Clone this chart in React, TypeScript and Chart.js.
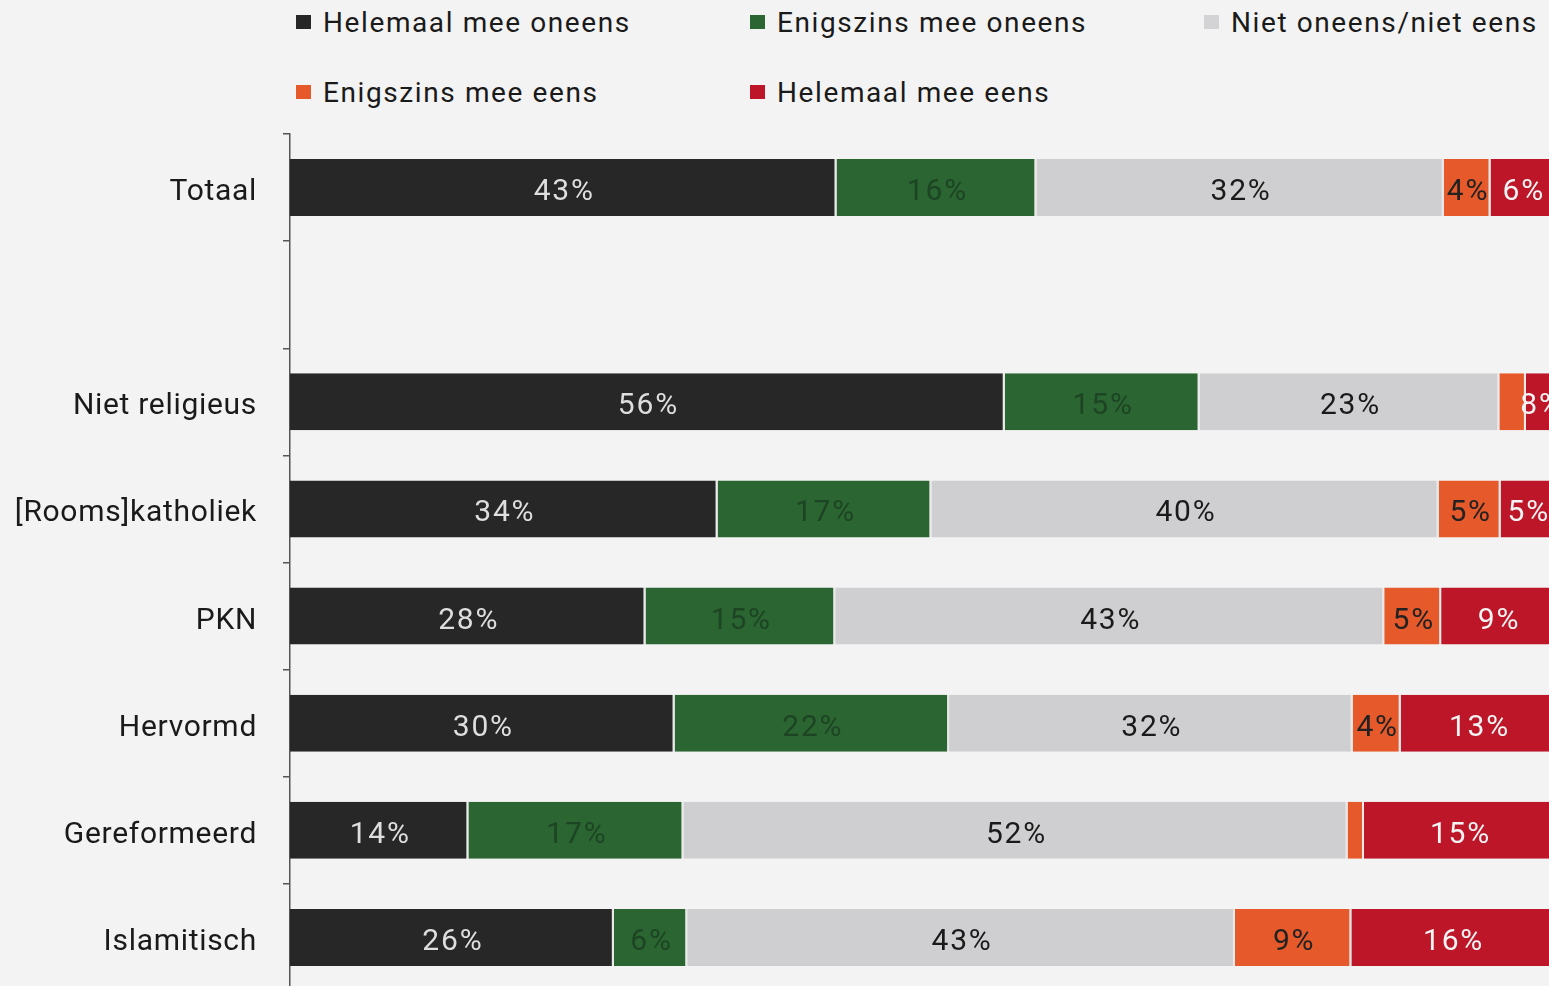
import React, { useEffect, useRef } from "react";
import { Chart, registerables } from "chart.js";

Chart.register(...registerables);

const categories = ["Totaal", "", "Niet religieus", "[Rooms]katholiek", "PKN", "Hervormd", "Gereformeerd", "Islamitisch"];
const seriesNames = ["Helemaal mee oneens", "Enigszins mee oneens", "Niet oneens/niet eens", "Enigszins mee eens", "Helemaal mee eens"];

const helemaalOneens = [43.2, null, 56.5, 33.8, 28.1, 30.4, 14.1, 25.6];
const enigszinsOneens = [15.8, null, 15.4, 16.9, 15.0, 21.7, 17.0, 5.8];
const neutraal = [32.2, null, 23.7, 40.1, 43.4, 31.9, 52.5, 43.3];
const enigszinsEens = [3.7, null, 2.1, 4.9, 4.5, 3.8, 1.3, 9.2];
const helemaalEens = [5.1, null, 2.3, 4.3, 9.0, 12.3, 15.1, 16.0];

const labelsHelemaalOneens = ["43%", "", "56%", "34%", "28%", "30%", "14%", "26%"];
const labelsEnigszinsOneens = ["16%", "", "15%", "17%", "15%", "22%", "17%", "6%"];
const labelsNeutraal = ["32%", "", "23%", "40%", "43%", "32%", "52%", "43%"];
const labelsEnigszinsEens = ["4%", "", "", "5%", "5%", "4%", "", "9%"];
const labelsHelemaalEens = ["6%", "", "8%", "5%", "9%", "13%", "15%", "16%"];

const seriesValues = [helemaalOneens, enigszinsOneens, neutraal, enigszinsEens, helemaalEens];
const seriesLabels = [labelsHelemaalOneens, labelsEnigszinsOneens, labelsNeutraal, labelsEnigszinsEens, labelsHelemaalEens];
const barColors = ["#272727", "#2a6532", "#cfcfd1", "#e5592a", "#bd1629"];
const textColors = ["#dedede", "#1d4523", "#1a1a1a", "#222222", "#f4f4f4"];

const FONT = "Roboto, 'Noto Sans', sans-serif";

const spacingPlugin = {
  id: "tickSpacing",
  beforeDraw(chart: any) {
    try { chart.ctx.letterSpacing = "0.7px"; } catch (e) {}
  },
  afterDraw(chart: any) {
    try { chart.ctx.letterSpacing = "0px"; } catch (e) {}
  },
};

const labelPlugin = {
  id: "segLabels",
  afterDatasetsDraw(chart: any) {
    const ctx = chart.ctx;
    ctx.save();
    ctx.font = `30px ${FONT}`;
    ctx.textAlign = "center";
    ctx.textBaseline = "middle";
    try { (ctx as any).letterSpacing = "1.8px"; } catch (e) {}
    chart.data.datasets.forEach((ds: any, di: number) => {
      const meta = chart.getDatasetMeta(di);
      meta.data.forEach((el: any, i: number) => {
        const txt = seriesLabels[di][i];
        if (!txt) return;
        const p = el.getProps(["x", "y", "base"], true);
        ctx.fillStyle = textColors[di];
        ctx.fillText(txt, (p.x + p.base) / 2 + 1, p.y + 5);
      });
    });
    ctx.restore();
  },
};

export default function App() {
  const ref = useRef<HTMLCanvasElement | null>(null);

  useEffect(() => {
    if (!ref.current) return;
    const chart = new Chart(ref.current, {
      type: "bar",
      data: {
        labels: categories,
        datasets: seriesNames.map((name, i) => ({
          label: name,
          data: seriesValues[i],
          backgroundColor: barColors[i],
          borderColor: "#e9e9e9",
          borderWidth: { top: 0, right: 2, bottom: 0, left: 0 },
          borderSkipped: "start",
          categoryPercentage: 1,
          barPercentage: 0.533,
        })) as any,
      },
      options: {
        animation: false,
        responsive: false,
        indexAxis: "y",
        layout: { padding: { top: 134, bottom: 10, left: 0, right: 0 } },
        plugins: { legend: { display: false }, tooltip: { enabled: false } },
        scales: {
          x: { stacked: true, min: 0, max: 100, display: false },
          y: {
            stacked: true,
            grid: { offset: true, drawOnChartArea: false, tickLength: 7, color: "#555", lineWidth: 1.5 },
            border: { color: "#555", width: 1.5 },
            ticks: { padding: 26, labelOffset: 5, color: "#1a1a1a", font: { family: FONT, size: 30 } },
            afterFit: (scale: any) => { scale.width = 290; },
          },
        },
      } as any,
      plugins: [spacingPlugin, labelPlugin],
    });
    return () => chart.destroy();
  }, []);

  return (
    <div style={{ position: "fixed", left: 0, top: 0, width: 1549, height: 986, overflow: "hidden", background: "#f3f3f3" }}>
      {seriesNames.map((name, i) => {
        const col = i % 3;
        const row = Math.floor(i / 3);
        return (
          <div key={name} style={{ position: "absolute", left: 296 + col * 454, top: 22 + row * 70 - 20, height: 40, display: "flex", alignItems: "center", fontFamily: FONT, fontSize: 28, letterSpacing: "1.6px", color: "#1a1a1a", whiteSpace: "nowrap" }}>
            <span style={{ display: "inline-block", width: 15, height: 14, background: barColors[i], marginRight: 12, opacity: i === 2 ? 0.9 : 1 }} />
            <span>{name}</span>
          </div>
        );
      })}
      <canvas ref={ref} width={1555} height={1035} style={{ position: "absolute", left: 0, top: 0, width: 1555, height: 1035 }} />
    </div>
  );
}
